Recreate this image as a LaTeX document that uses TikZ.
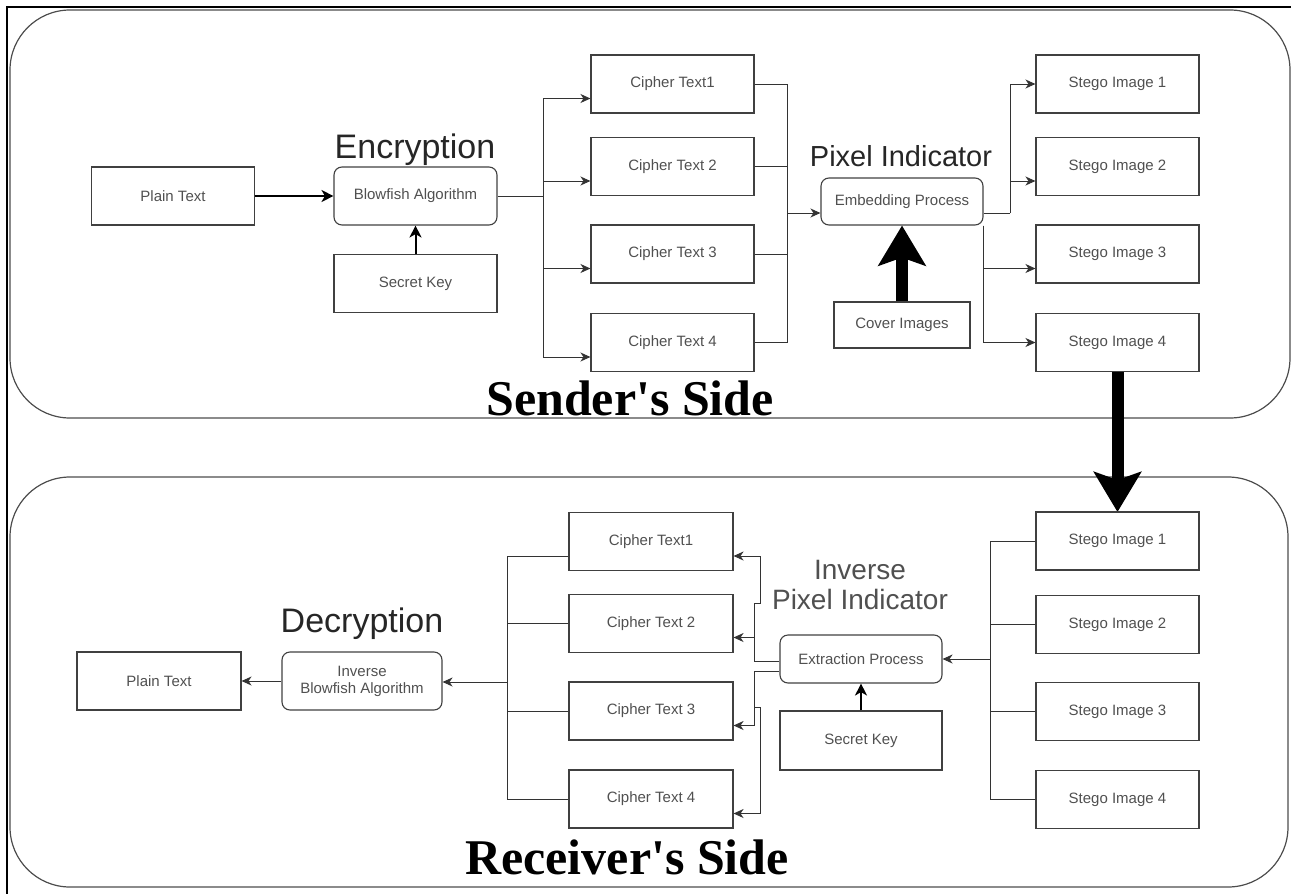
\documentclass[tikz,border=0pt]{standalone}
\usepackage{fontspec}
\setmainfont{Liberation Sans}
\newfontfamily\sideserif{Liberation Serif}
\usetikzlibrary{arrows.meta,calc}
\definecolor{boxgray}{HTML}{404040}
\definecolor{textgray}{HTML}{505050}
\definecolor{linegray}{HTML}{333333}
\definecolor{headgray}{HTML}{262626}
\definecolor{panelgray}{HTML}{4D4D4D}

\begin{document}
\begin{tikzpicture}[x=1pt,y=-1pt,
  box/.style={draw=boxgray, line width=1.1pt, minimum width=163pt, minimum height=58pt,
    inner sep=0pt, text=textgray, font=\fontsize{15}{17}\selectfont, align=center},
  rbox/.style={box, rounded corners=8pt},
  link/.style={draw=linegray, line width=1pt},
  arr/.style={link, -{Stealth[length=10pt,width=9pt,inset=3pt]}},
  fat/.style={draw=black, line width=2pt, -{Stealth[length=12pt,width=12pt,inset=3.5pt]}},
  bigarrow/.style={draw=black, line width=12pt, -{Stealth[length=40pt,width=47pt,inset=8pt]}},
  head/.style={text=headgray, inner sep=0pt, align=center},
  side/.style={font=\sideserif\bfseries\fontsize{50}{50}\selectfont, text=black, inner sep=0pt},
  panel/.style={draw=panelgray, line width=1.2pt, rounded corners=60pt}]

\useasboundingbox (0,0) rectangle (1291,894);

% outer frame and the two panels
\draw[black, line width=2pt] (7,894) -- (7,7) -- (1291,7);
\draw[panel] (10,10) rectangle (1290,418);
\draw[panel] (10,477) rectangle (1288,887);

% ---------- sender ----------
\node[box]  (pt1) at (173,196)   {Plain Text};
\node[rbox] (bf)  at (415.5,196) {Blowfish Algorithm};
\node[box]  (sk1) at (415.5,283.5) {Secret Key};
\node[box]  (ct1) at (672.5,84)    {Cipher Text1};
\node[box]  (ct2) at (672.5,166.5) {Cipher Text 2};
\node[box]  (ct3) at (672.5,254)   {Cipher Text 3};
\node[box]  (ct4) at (672.5,342.5) {Cipher Text 4};
\node[rbox, minimum width=162pt, minimum height=47pt] (emb) at (902,201.5) {Embedding Process};
\node[box, minimum width=136pt, minimum height=46pt] (cov) at (902,325) {Cover Images};
\node[box]  (sg1) at (1117.5,84)    {Stego Image 1};
\node[box]  (sg2) at (1117.5,166.5) {Stego Image 2};
\node[box]  (sg3) at (1117.5,254)   {Stego Image 3};
\node[box]  (sg4) at (1117.5,342.5) {Stego Image 4};

\node[head, font=\fontsize{34}{34}\selectfont] (enc) at (415,150) {Encryption};
\node[head, font=\fontsize{29}{29}\selectfont] (pix) at (901,156) {Pixel Indicator};
\node[side] (sside) at (630,398) {Sender's Side};

\draw[fat] (pt1.east) -- (bf.west);
\draw[fat] (sk1.north) -- (bf.south);

\coordinate (split) at (543,196);
\draw[link] (bf.east) -- (split);
\foreach \n in {ct1,ct2,ct3,ct4}
  \draw[arr] (split) |- ($(\n.west)+(0,14.5)$);

\coordinate (merge) at (787,213);
\foreach \n in {ct1,ct2,ct3,ct4}
  \draw[link] (\n.east) -| (merge);
\draw[arr] (merge) -- (emb.west |- merge);

\coordinate (fork) at (1010,213);
\draw[link] (emb.east |- fork) -- (fork);
\draw[arr] (fork) |- (sg1.west);
\draw[arr] (fork) |- ($(sg2.west)+(0,14.5)$);
\draw[arr] (emb.south east) |- ($(sg3.west)+(0,14.5)$);
\draw[arr] (emb.south east) |- (sg4.west);

\draw[bigarrow] (cov.north) -- (emb.south);
\draw[bigarrow] (sg4.south) -- (1117.5,512);

% ---------- receiver ----------
\node[box]  (rsg1) at (1117.5,541)   {Stego Image 1};
\node[box]  (rsg2) at (1117.5,624.5) {Stego Image 2};
\node[box]  (rsg3) at (1117.5,711.5) {Stego Image 3};
\node[box]  (rsg4) at (1117.5,799.5) {Stego Image 4};
\node[rbox, minimum width=162pt, minimum height=48pt] (ext) at (861,659) {Extraction Process};
\node[box, minimum width=162pt, minimum height=59pt] (sk2) at (861,740.5) {Secret Key};
\node[box, minimum width=164pt] (rct1) at (651,541.5) {Cipher Text1};
\node[box, minimum width=164pt] (rct2) at (651,623.5) {Cipher Text 2};
\node[box, minimum width=164pt] (rct3) at (651,711)   {Cipher Text 3};
\node[box, minimum width=164pt] (rct4) at (651,799)   {Cipher Text 4};
\node[rbox, minimum width=160pt] (ibf) at (362,681) {Inverse\\Blowfish Algorithm};
\node[box, minimum width=164pt]  (pt2) at (159,681) {Plain Text};

\node[head, font=\fontsize{34}{34}\selectfont] (dec) at (362,624) {Decryption};
\node[head, text=textgray, font=\fontsize{28}{30}\selectfont] (ipix) at (860,585) {Inverse\\Pixel Indicator};
\node[side] (rside) at (627,857) {Receiver's Side};

\coordinate (rmerge) at (990,659);
\foreach \n in {rsg1,rsg2,rsg3,rsg4}
  \draw[link] (\n.west) -| (rmerge);
\draw[arr] (rmerge) -- (ext.east |- rmerge);
\draw[fat] (sk2.north) -- (ext.south);

\coordinate (busA) at (754,661);
\coordinate (busB) at (754,671);
\coordinate (jogA) at (760,603);
\coordinate (jogB) at (760,707);
\draw[link] ($(ext.west)+(0,2)$) -- (busA);
\draw[link] ($(ext.west)+(0,12)$) -- (busB);
\draw[arr] (busA) |- (busA |- jogA) -- (jogA) |- ($(rct1.east)+(0,14.5)$);
\draw[arr] (busA) |- ($(rct2.east)+(0,14)$);
\draw[arr] (busB) |- ($(rct3.east)+(0,14.5)$);
\draw[arr] (busB) |- (busB |- jogB) -- (jogB) |- ($(rct4.east)+(0,14.5)$);

\coordinate (lmerge) at (507,682);
\draw[link] ($(rct1.west)+(0,14.5)$) -| (lmerge);
\foreach \n in {rct2,rct3,rct4}
  \draw[link] (\n.west) -| (lmerge);
\draw[arr] (lmerge) -- (ibf.east |- lmerge);
\draw[arr] (ibf.west) -- (pt2.east);
\end{tikzpicture}
\end{document}
